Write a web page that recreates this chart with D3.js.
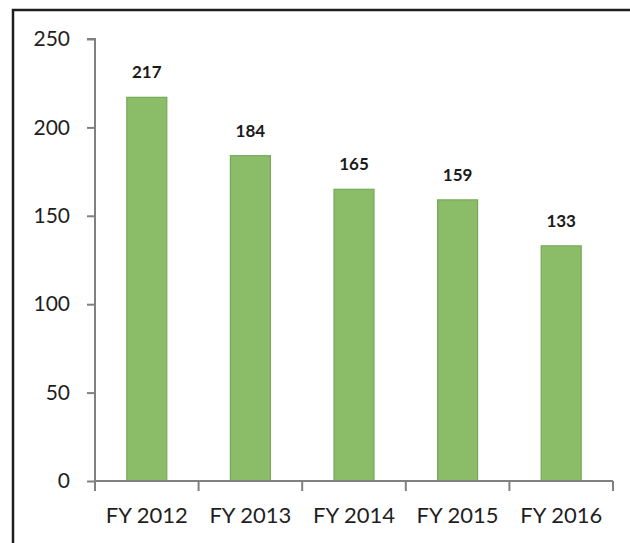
<!DOCTYPE html>
<html>
<head>
<meta charset="utf-8">
<script src="https://cdn.jsdelivr.net/npm/d3@7"></script>
<style>
  html, body { margin: 0; padding: 0; background: #ffffff; }
  svg { display: block; }
</style>
</head>
<body>
<script>
// Annual counts by fiscal year
const categories = ["FY 2012", "FY 2013", "FY 2014", "FY 2015", "FY 2016"];
const values = [217, 184, 165, 159, 133];
const yTicks = [0, 50, 100, 150, 200, 250];

const W = 630, H = 543;
const svg = d3.select("body").append("svg").attr("width", W).attr("height", H);

// Frame around the chart area
svg.append("path")
  .attr("d", `M13,${H} L13,10 L${W},10`)
  .attr("fill", "none")
  .attr("stroke", "#1e1e1e")
  .attr("stroke-width", 2.5);

const x = d3.scaleBand().domain(categories).range([95, 613]).paddingInner(0.614).paddingOuter(0.307);
const y = d3.scaleLinear().domain([0, 250]).range([481, 39]);

// Bars
svg.append("g").selectAll("rect")
  .data(values)
  .join("rect")
  .attr("x", (d, i) => x(categories[i]))
  .attr("y", d => y(d))
  .attr("width", x.bandwidth())
  .attr("height", d => y(0) - y(d))
  .attr("fill", "#8bbd69")
  .attr("stroke", "#76a85a")
  .attr("stroke-width", 1.2);

// Value labels
svg.append("g").selectAll("text")
  .data(values)
  .join("text")
  .attr("x", (d, i) => x(categories[i]) + x.bandwidth() / 2)
  .attr("y", d => y(d) - 19)
  .attr("text-anchor", "middle")
  .attr("font-family", "Lato, 'Open Sans', sans-serif")
  .attr("font-weight", "bold")
  .attr("font-size", 17)
  .attr("fill", "#1a1a1a")
  .text(d => d);

// Y axis
const yAxis = svg.append("g")
  .attr("transform", "translate(95,0)")
  .call(d3.axisLeft(y).tickValues(yTicks).tickSize(8).tickPadding(17));
yAxis.select(".domain").attr("stroke", "#808080").attr("stroke-width", 2).attr("d", `M-8,${y(250)}H0V${y(0)}`);
yAxis.selectAll(".tick line").attr("stroke", "#808080").attr("stroke-width", 2);
yAxis.selectAll(".tick text")
  .attr("font-family", "Lato, 'Open Sans', sans-serif")
  .attr("font-size", 21)
  .attr("fill", "#1f1f1f");

// X axis with boundary ticks between categories
const xg = svg.append("g").attr("transform", `translate(0,${y(0)})`);
xg.append("line")
  .attr("x1", 95).attr("x2", 613)
  .attr("stroke", "#808080").attr("stroke-width", 2);
const step = x.step();
const bounds = d3.range(categories.length + 1).map(i => 95 + i * step);
xg.selectAll("line.b")
  .data(bounds)
  .join("line")
  .attr("class", "b")
  .attr("x1", d => d).attr("x2", d => d)
  .attr("y1", 0).attr("y2", 10)
  .attr("stroke", "#808080").attr("stroke-width", 2);
xg.selectAll("text")
  .data(categories)
  .join("text")
  .attr("x", d => x(d) + x.bandwidth() / 2)
  .attr("y", 42)
  .attr("text-anchor", "middle")
  .attr("font-family", "Lato, 'Open Sans', sans-serif")
  .attr("font-size", 22)
  .attr("fill", "#1f1f1f")
  .text(d => d);
</script>
</body>
</html>
